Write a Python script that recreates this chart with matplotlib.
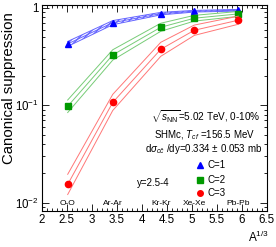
import numpy as np
import matplotlib
matplotlib.use("Agg")
import matplotlib.pyplot as plt
from matplotlib.ticker import MultipleLocator, LogLocator, NullFormatter, FormatStrFormatter

plt.rcParams['font.family'] = ['Liberation Sans', 'DejaVu Sans']
plt.rcParams['mathtext.fontset'] = 'custom'
plt.rcParams['mathtext.rm'] = 'Liberation Sans'
plt.rcParams['mathtext.it'] = 'Liberation Sans:italic'

# collision systems and A^(1/3)
systems = ["O-O", "Ar-Ar", "Kr-Kr", "Xe-Xe", "Pb-Pb"]
a13 = [2.52, 3.42, 4.38, 5.05, 5.93]

# canonical suppression (central values)
c1 = [0.427, 0.706, 0.874, 0.925, 0.947]
c2 = [0.0977, 0.329, 0.633, 0.784, 0.868]
c3 = [0.0154, 0.107, 0.376, 0.590, 0.748]

# band half-width factors (multiplicative)
c1_err = [1.06, 1.05, 1.03, 1.02, 1.02]
c2_err = [1.16, 1.13, 1.10, 1.07, 1.06]
c3_err = [1.27, 1.21, 1.18, 1.13, 1.10]

fig = plt.figure(figsize=(2.76, 2.47), dpi=100)
ax = fig.add_axes([0.151, 0.146, 0.816, 0.834])

series = [
    (c1, c1_err, "blue", "#6666ff", "^", "C=1"),
    (c2, c2_err, "#009900", "#77cc77", "s", "C=2"),
    (c3, c3_err, "red", "#ff7777", "o", "C=3"),
]
for vals, err, col, lcol, mk, lab in series:
    v = np.array(vals)
    e = np.array(err)
    ax.plot(a13, v * e, color=lcol, lw=0.7)
    ax.plot(a13, v, color=lcol, lw=0.7)
    ax.plot(a13, v / e, color=lcol, lw=0.7)
    if col == "blue":
        ax.fill_between(a13, v / e, v * e, facecolor="none", edgecolor=lcol,
                        hatch="//////", lw=0)
    ax.plot(a13, v, ls="none", marker=mk, color=col, ms=4.5, mec=col)

ax.set_yscale("log")
ax.set_xlim(2, 6.5)
ax.set_ylim(0.00822, 1.073)
ax.xaxis.set_major_locator(MultipleLocator(0.5))
ax.xaxis.set_minor_locator(MultipleLocator(0.1))
ax.xaxis.set_major_formatter(FormatStrFormatter("%g"))
ax.yaxis.set_major_locator(LogLocator(base=10))
ax.yaxis.set_minor_locator(LogLocator(base=10, subs=np.arange(2, 10)))
ax.yaxis.set_minor_formatter(NullFormatter())
ax.set_yticks([0.01, 0.1, 1])
ax.set_yticklabels([r"$10^{-2}$", r"$10^{-1}$", "1"])
ax.tick_params(which="both", direction="in", top=True, right=True, labelsize=8.3, pad=2)
ax.tick_params(which="major", length=5, width=0.6)
ax.tick_params(which="minor", length=2.5, width=0.6)
for s in ax.spines.values():
    s.set_linewidth(0.8)

ax.set_ylabel("Canonical suppression", fontsize=10.8, labelpad=1)
ax.yaxis.set_label_coords(-0.146, 0.966, transform=ax.transAxes)
ax.yaxis.label.set_ha("right")
ax.yaxis.label.set_va("center")
fig.text(0.975, 0.01, r"A$^{1/3}$", ha="right", va="bottom", fontsize=8.5)

for x, name in zip(a13, systems):
    ax.text(x, 0.036, name, transform=ax.get_xaxis_transform(),
            ha="center", va="center", fontsize=6)

ax.text(0.73, 0.455, r"$\sqrt{s_{\mathrm{NN}}}$=5.02 TeV, 0-10%", transform=ax.transAxes,
        ha="center", va="center", fontsize=7.2)
ax.text(0.725, 0.37, r"SHMc, $T_{cf}$ =156.5 MeV", transform=ax.transAxes,
        ha="center", va="center", fontsize=7)
ax.text(0.72, 0.30, r"d$\sigma_{c\bar{c}}$ /dy=0.334 $\pm$ 0.053 mb", transform=ax.transAxes,
        ha="center", va="center", fontsize=7)
ax.text(0.495, 0.135, "y=2.5-4", transform=ax.transAxes, ha="center", va="center", fontsize=7)

leg_y = [0.222, 0.15, 0.085]
for (vals, err, col, lcol, mk, lab), yy in zip(series, leg_y):
    ax.plot([0.705], [yy], transform=ax.transAxes, marker=mk, color=col, ms=4, ls="none")
    ax.text(0.735, yy, lab, transform=ax.transAxes, ha="left", va="center", fontsize=7)

fig.savefig("out.png", dpi=100)
